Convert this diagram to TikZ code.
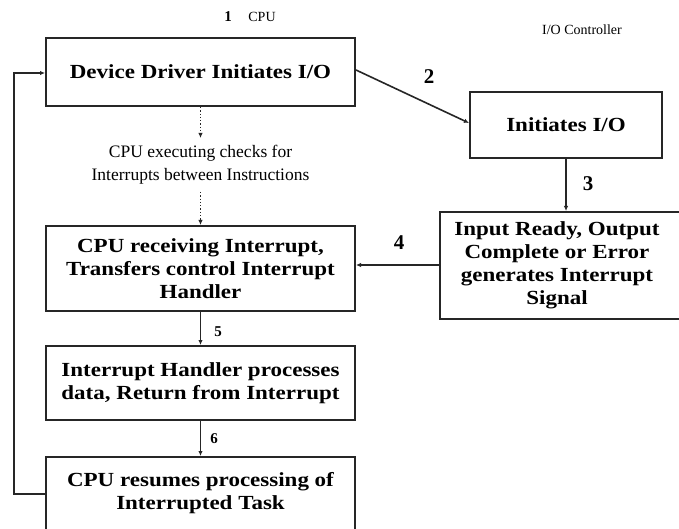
\documentclass[tikz,border=0pt]{standalone}
\usepackage{fontspec}
\setmainfont{Liberation Serif}
\newfontfamily\boxfont[FakeStretch=1.15]{Liberation Serif}
\usetikzlibrary{arrows.meta}
\begin{document}
\begin{tikzpicture}[x=1pt,y=-1pt,
  boxtext/.style={font=\boxfont\fontsize{20}{23}\selectfont\bfseries},
  boxstyle/.style={draw=black!85,line width=2pt,inner sep=0pt,align=center,boxtext},
  txt/.style={inner sep=0pt,align=center},
  conn/.style={draw=black!85,line width=1.6pt,-{Latex[length=5pt,width=4.5pt]}},
  dotconn/.style={draw=black!85,line width=1.3pt,dotted,-{Latex[length=5pt,width=4.5pt]}},
  bignum/.style={inner sep=0pt,font=\fontsize{21}{21}\selectfont\bfseries},
  smallnum/.style={inner sep=0pt,font=\fontsize{15}{15}\selectfont\bfseries}]
\useasboundingbox (0,0) rectangle (679,529);
\clip (0,0) rectangle (679,529);
\fill[white] (0,0) rectangle (679,529);

% headings
\node[smallnum] (n1) at (228,17) {1};
\node[txt,font=\fontsize{14}{14}\selectfont] (hcpu) at (262,17) {CPU};
\node[txt,font=\fontsize{14}{14}\selectfont] (hio) at (582,30) {I/O Controller};

% boxes
\node[boxstyle,minimum width=309pt,minimum height=68pt] (A) at (200.5,72) {Device Driver Initiates I/O};
\node[boxstyle,minimum width=192pt,minimum height=66pt] (B) at (566,125) {Initiates I/O};
\node[boxstyle,minimum width=245pt,minimum height=107pt] (C) at (562.5,265.5) {};
\node[txt,boxtext] (Ct) at (557,265.5) {Input Ready, Output\\Complete or Error\\generates Interrupt\\Signal};
\node[boxstyle,minimum width=309pt,minimum height=85pt] (D) at (200.5,268.5) {CPU receiving Interrupt,\\Transfers control Interrupt\\Handler};
\node[boxstyle,minimum width=309pt,minimum height=74pt] (E) at (200.5,383) {Interrupt Handler processes\\data, Return from Interrupt};
\node[boxstyle,minimum width=309pt,minimum height=90pt] (F) at (200.5,502) {};
\node[txt,boxtext] (Ft) at (200.5,493.5) {CPU resumes processing of\\Interrupted Task};

% middle text
\node[txt,font=\fontsize{17.5}{23}\selectfont] (chk) at (200.5,164.5) {CPU executing checks for\\Interrupts between Instructions};
\coordinate (dtop) at (200.5,138);
\coordinate (dbot) at (200.5,192);

% connectors
\draw[conn] (A.east |- 0,70) -- (B.west |- 0,123);
\node[bignum] (n2) at (429,77) {2};
\draw[conn] (B.south) -- (B.south |- C.north);
\node[bignum] (n3) at (588,184) {3};
\draw[conn] (C.west |- 0,265) -- (D.east |- 0,265);
\node[bignum] (n4) at (399,243) {4};
\draw[conn] (D.south) -- (E.north);
\node[smallnum] (n5) at (218,332) {5};
\draw[conn] (E.south) -- (F.north);
\node[smallnum] (n6) at (214,439) {6};
\draw[dotconn] (A.south) -- (dtop);
\draw[dotconn] (dbot) -- (D.north);
\coordinate (fb1) at (14,494);
\coordinate (fb2) at (14,73);
\draw[conn] (F.west |- 0,494) -- (fb1) -- (fb2) -- (A.west |- 0,73);
\end{tikzpicture}
\end{document}
